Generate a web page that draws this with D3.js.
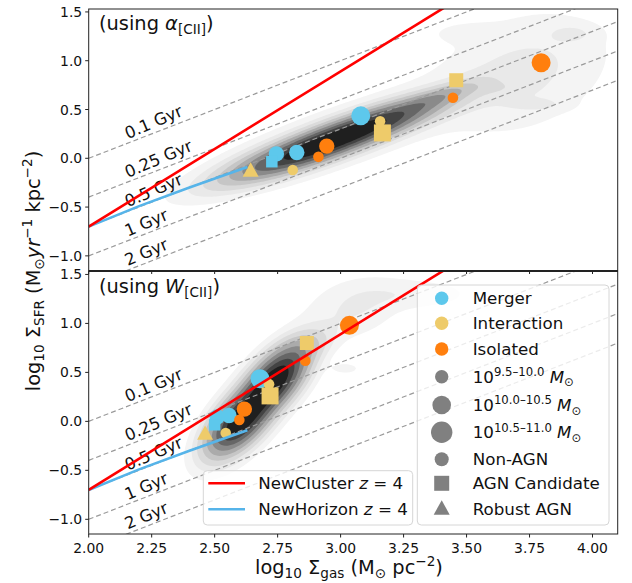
<!DOCTYPE html>
<html><head><meta charset="utf-8">
<script src="https://cdn.jsdelivr.net/npm/d3@7"></script>
<style>body{margin:0;background:#fff} svg{display:block;font-family:"DejaVu Sans",sans-serif}</style>
</head><body><svg id="c" width="632" height="583"></svg>
<script>
// ---------------- data ----------------
const xTicks = [2.00, 2.25, 2.50, 2.75, 3.00, 3.25, 3.50, 3.75, 4.00];
const yTicks = [-1.0, -0.5, 0.0, 0.5, 1.0, 1.5];
const depletionGyr = [0.1, 0.25, 0.5, 1, 2];
const depletionLabels = ["0.1 Gyr", "0.25 Gyr", "0.5 Gyr", "1 Gyr", "2 Gyr"];

// observed galaxies: type 0=Merger 1=Interaction 2=Isolated ; mass bin 0..2 ; agn 0=non 1=candidate 2=robust
const galType  = [0, 0, 0, 0, 2, 2, 1, 1, 1, 1, 1, 2, 2];
const galMass  = [2, 1, 0, 1, 1, 0, 0, 1, 0, 2, 1, 0, 2];
const galAgn   = [0, 0, 1, 0, 0, 0, 0, 2, 0, 1, 1, 0, 0];
const galSFR   = [0.435, 0.045, -0.035, 0.06, 0.125, 0.015, -0.12, -0.13, 0.38, 0.26, 0.80, 0.62, 0.98];
const galGasAlpha = [3.08, 2.745, 2.727, 2.826, 2.945, 2.912, 2.81, 2.643, 3.157, 3.166, 3.459, 3.446, 3.796];
const galGasW     = [2.68, 2.51, 2.50, 2.557, 2.618, 2.598, 2.544, 2.462, 2.716, 2.72, 2.866, 2.86, 3.035];

// simulation relations (log Σgas, log ΣSFR)
const newClusterGas = [2.0, 3.6];
const newClusterSFR = [-0.70, 1.844];
const newHorizonGas = [2.0, 2.2, 2.4, 2.63];
const newHorizonSFR = [-0.70, -0.49, -0.30, -0.09];

// simulated-galaxy density, read as blobs: [gas, sfr, sdGas, sdSfr, corr, weight]
const densityAlpha = [
  [2.85, 0.06, 0.18, 0.18, 0.84, 1.0],
  [3.10, 0.32, 0.18, 0.18, 0.84, 1.0],
  [3.00, 0.22, 0.34, 0.34, 0.86, 0.12],
  [3.38, 0.62, 0.10, 0.10, 0.80, 0.24],
  [3.72, 0.88, 0.22, 0.40, 0.30, 0.075],
  [3.50, 1.28, 0.09, 0.07, 0.00, 0.035],
  [3.92, 1.28, 0.06, 0.06, 0.00, 0.05],
  [3.78, 0.55, 0.07, 0.04, 0.00, 0.05],
  [3.60, 0.72, 0.08, 0.05, 0.00, 0.035]
];
const densityW = [
  [2.60, 0.00, 0.075, 0.20, 0.60, 1.0],
  [2.74, 0.42, 0.075, 0.20, 0.60, 1.0],
  [2.67, 0.22, 0.12, 0.36, 0.75, 0.10],
  [2.85, 0.75, 0.07, 0.12, 0.50, 0.12],
  [3.05, 1.15, 0.12, 0.20, 0.30, 0.05],
  [3.30, 1.30, 0.15, 0.10, 0.00, 0.035],
  [3.02, 0.54, 0.04, 0.04, 0.00, 0.03]
];

const typeNames = ["Merger", "Interaction", "Isolated"];
const typeColors = ["#5dc8ec", "#eecb6a", "#ff7f0e"];

// ---------------- layout ----------------
const svg = d3.select("#c");
const L = 88.7, R = 617.7;
const panels = [
  {top: 9, bottom: 270.5, gas: galGasAlpha, dens: densityAlpha, title: "α"},
  {top: 271.5, bottom: 534, gas: galGasW, dens: densityW, title: "W"}
];
const x = d3.scaleLinear().domain([2.0, 4.1]).range([L, R]);
const FS = 13.9;

function rich(sel, parts, base) {
  let cur = 0;
  parts.forEach(p => {
    const [t, mode, ital] = p;
    const size = mode === "n" ? base : base * 0.7;
    const target = mode === "sub" ? base * 0.22 : mode === "sup" ? -base * 0.4 : 0;
    const ts = sel.append("tspan").text(t).attr("font-size", size).attr("dy", target - cur);
    if (ital) ts.attr("font-style", "italic");
    cur = target;
  });
}

const defs = svg.append("defs");

panels.forEach((P, pi) => {
  const y = d3.scaleLinear().domain([-1.15, 1.53]).range([P.bottom, P.top]);
  const g = svg.append("g");
  const cid = "clip" + pi;
  defs.append("clipPath").attr("id", cid).append("rect")
    .attr("x", L).attr("y", P.top).attr("width", R - L).attr("height", P.bottom - P.top);
  const inner = g.append("g").attr("clip-path", `url(#${cid})`);

  // density contours
  const cell = 2;
  const nx = Math.ceil((R - L) / cell), ny = Math.ceil((P.bottom - P.top) / cell);
  const vals = new Float64Array(nx * ny);
  let vmax = 0;
  for (let j = 0; j < ny; j++) {
    const dy = y.invert(P.top + (j + 0.5) * cell);
    for (let i = 0; i < nx; i++) {
      const dx = x.invert(L + (i + 0.5) * cell);
      let s = 0;
      P.dens.forEach(([cx, cy, sx, sy, r, w]) => {
        const a = (dx - cx) / sx, b = (dy - cy) / sy;
        const q = (a * a - 2 * r * a * b + b * b) / (1 - r * r);
        s += w * Math.exp(-0.5 * q);
      });
      vals[i + j * nx] = s;
      if (s > vmax) vmax = s;
    }
  }
  const fr = [0.015, 0.04, 0.075, 0.13, 0.2, 0.3, 0.42, 0.56, 0.72];
  const cols = ["#f4f4f4", "#e9e9e9", "#dadada", "#c6c6c6", "#ababab", "#8a8a8a", "#666666", "#434343", "#1f1f1f"];
  const cs = d3.contours().size([nx, ny]).smooth(true).thresholds(fr.map(f => f * vmax))(Array.from(vals));
  const gp = d3.geoPath(d3.geoIdentity().scale(cell).translate([L, P.top]));
  inner.selectAll("path.dens").data(cs).join("path").attr("class", "dens")
    .attr("d", gp).attr("fill", (d, i) => cols[i]).attr("stroke", "none");

  // depletion-time lines
  depletionGyr.forEach((t, k) => {
    const off = 6 - Math.log10(t * 1e9);
    inner.append("line")
      .attr("x1", x(2.0)).attr("y1", y(2.0 + off))
      .attr("x2", x(4.1)).attr("y2", y(4.1 + off))
      .attr("stroke", "#9a9a9a").attr("stroke-width", 1.2).attr("stroke-dasharray", "5,3");
    const gx = 2.155;
    inner.append("text")
      .attr("transform", `translate(${x(gx)},${y(gx + off) - 4}) rotate(-23)`)
      .attr("font-size", 16.5).attr("fill", "#111").text(depletionLabels[k]);
  });

  // markers
  const rC = [5.3, 7.7, 9.5], sQ = [11.5, 14, 17], sT = [13, 16, 19];
  galSFR.forEach((sfr, i) => {
    const px = x(P.gas[i]), py = y(sfr), col = typeColors[galType[i]], m = galMass[i];
    if (galAgn[i] === 0) inner.append("circle").attr("cx", px).attr("cy", py).attr("r", rC[m]).attr("fill", col);
    else if (galAgn[i] === 1) inner.append("rect").attr("x", px - sQ[m] / 2).attr("y", py - sQ[m] / 2).attr("width", sQ[m]).attr("height", sQ[m]).attr("fill", col);
    else {
      const s = sT[m], h = s * 0.9;
      inner.append("path").attr("d", `M${px},${py - h * 0.6}L${px + s / 2},${py + h * 0.4}L${px - s / 2},${py + h * 0.4}Z`).attr("fill", col);
    }
  });

  // relations
  const line = d3.line().x(d => x(d[0])).y(d => y(d[1]));
  inner.append("path").attr("d", line(newHorizonGas.map((v, i) => [v, newHorizonSFR[i]])))
    .attr("fill", "none").attr("stroke", "#56b4e9").attr("stroke-width", 2.6);
  inner.append("path").attr("d", line(newClusterGas.map((v, i) => [v, newClusterSFR[i]])))
    .attr("fill", "none").attr("stroke", "#ff0000").attr("stroke-width", 2.6);

  // frame
  g.append("rect").attr("x", L).attr("y", P.top).attr("width", R - L).attr("height", P.bottom - P.top)
    .attr("fill", "none").attr("stroke", "#222").attr("stroke-width", 1);

  // y ticks
  yTicks.forEach(v => {
    g.append("line").attr("x1", L - 3.5).attr("x2", L).attr("y1", y(v)).attr("y2", y(v)).attr("stroke", "#222");
    g.append("text").attr("x", L - 6.5).attr("y", y(v)).attr("dy", "0.36em").attr("text-anchor", "end")
      .attr("font-size", FS).attr("fill", "#111").text(d3.format(".1f")(v).replace("-", "−"));
  });
  // x ticks
  xTicks.forEach(v => {
    g.append("line").attr("x1", x(v)).attr("x2", x(v)).attr("y1", P.bottom).attr("y2", P.bottom + 3.5).attr("stroke", "#222");
    if (pi === 1) g.append("text").attr("x", x(v)).attr("y", P.bottom + 19).attr("text-anchor", "middle")
      .attr("font-size", FS).attr("fill", "#111").text(d3.format(".2f")(v));
  });

  // title
  const tt = g.append("text").attr("x", 99).attr("y", P.top + 21).attr("fill", "#111").attr("font-size", 19.4);
  rich(tt, [["(using ", "n", false], [P.title, "n", true], ["[CII]", "sub", false], [")", "n", false]], 19.4);
});

// axis labels
const xl = svg.append("text").attr("x", 349).attr("y", 574).attr("text-anchor", "middle").attr("font-size", 19.4).attr("fill", "#111");
rich(xl, [["log", "n"], ["10", "sub"], [" Σ", "n"], ["gas", "sub"], [" (M", "n"], ["⊙", "sub"], [" pc", "n"], ["−2", "sup"], [")", "n"]], 19.4);
const yl = svg.append("text").attr("transform", "translate(40,271) rotate(-90)").attr("text-anchor", "middle").attr("font-size", 19.4).attr("fill", "#111");
rich(yl, [["log", "n"], ["10", "sub"], [" Σ", "n"], ["SFR", "sub"], [" (M", "n"], ["⊙", "sub"], ["yr", "n", true], ["−1", "sup"], [" kpc", "n"], ["−2", "sup"], [")", "n"]], 19.4);

// legend: simulation lines
const LF = 16.7;
const lg1 = svg.append("g");
lg1.append("rect").attr("x", 203.3).attr("y", 470.7).attr("width", 209.4).attr("height", 54.3).attr("rx", 4)
  .attr("fill", "#fff").attr("fill-opacity", 0.8).attr("stroke", "#d6d6d6");
[["NewCluster", "#ff0000", 483.3], ["NewHorizon", "#56b4e9", 509.3]].forEach(([n, c, yy]) => {
  lg1.append("line").attr("x1", 208.3).attr("x2", 245).attr("y1", yy).attr("y2", yy).attr("stroke", c).attr("stroke-width", 2.6);
  const t = lg1.append("text").attr("x", 258.3).attr("y", yy + 6).attr("font-size", LF).attr("fill", "#111");
  rich(t, [[n + " ", "n"], ["z", "n", true], [" = 4", "n"]], LF);
});

// legend: markers
const lg2 = svg.append("g");
lg2.append("rect").attr("x", 417.3).attr("y", 285).attr("width", 191.7).attr("height", 240).attr("rx", 4)
  .attr("fill", "#fff").attr("fill-opacity", 0.8).attr("stroke", "#d6d6d6");
const mx = 441.7, tx = 472.7, gray = "#808080";
const rows = [298.3, 323.3, 349, 376.7, 405, 432.3, 459.3, 483.3, 508.7];
typeNames.forEach((n, i) => {
  lg2.append("circle").attr("cx", mx).attr("cy", rows[i]).attr("r", 6.7).attr("fill", typeColors[i]);
  lg2.append("text").attr("x", tx).attr("y", rows[i] + 6).attr("font-size", LF).attr("fill", "#111").text(n);
});
const massLabels = ["9.5–10.0", "10.0–10.5", "10.5–11.0"];
const massR = [6.7, 9.3, 10.7];
massLabels.forEach((m, i) => {
  const yy = rows[3 + i];
  lg2.append("circle").attr("cx", mx).attr("cy", yy).attr("r", massR[i]).attr("fill", gray);
  const t = lg2.append("text").attr("x", tx).attr("y", yy + 6).attr("font-size", LF).attr("fill", "#111");
  rich(t, [["10", "n"], [m, "sup"], [" M", "n", true], ["⊙", "sub"]], LF);
});
const agnLabels = ["Non-AGN", "AGN Candidate", "Robust AGN"];
agnLabels.forEach((n, i) => {
  const yy = rows[6 + i];
  if (i === 0) lg2.append("circle").attr("cx", mx).attr("cy", yy).attr("r", 7).attr("fill", gray);
  else if (i === 1) lg2.append("rect").attr("x", mx - 7.5).attr("y", yy - 7.5).attr("width", 15).attr("height", 15).attr("fill", gray);
  else lg2.append("path").attr("d", `M${mx},${yy - 8.5}L${mx + 8},${yy + 6}L${mx - 8},${yy + 6}Z`).attr("fill", gray);
  lg2.append("text").attr("x", tx).attr("y", yy + 6).attr("font-size", LF).attr("fill", "#111").text(n);
});
</script></body></html>
